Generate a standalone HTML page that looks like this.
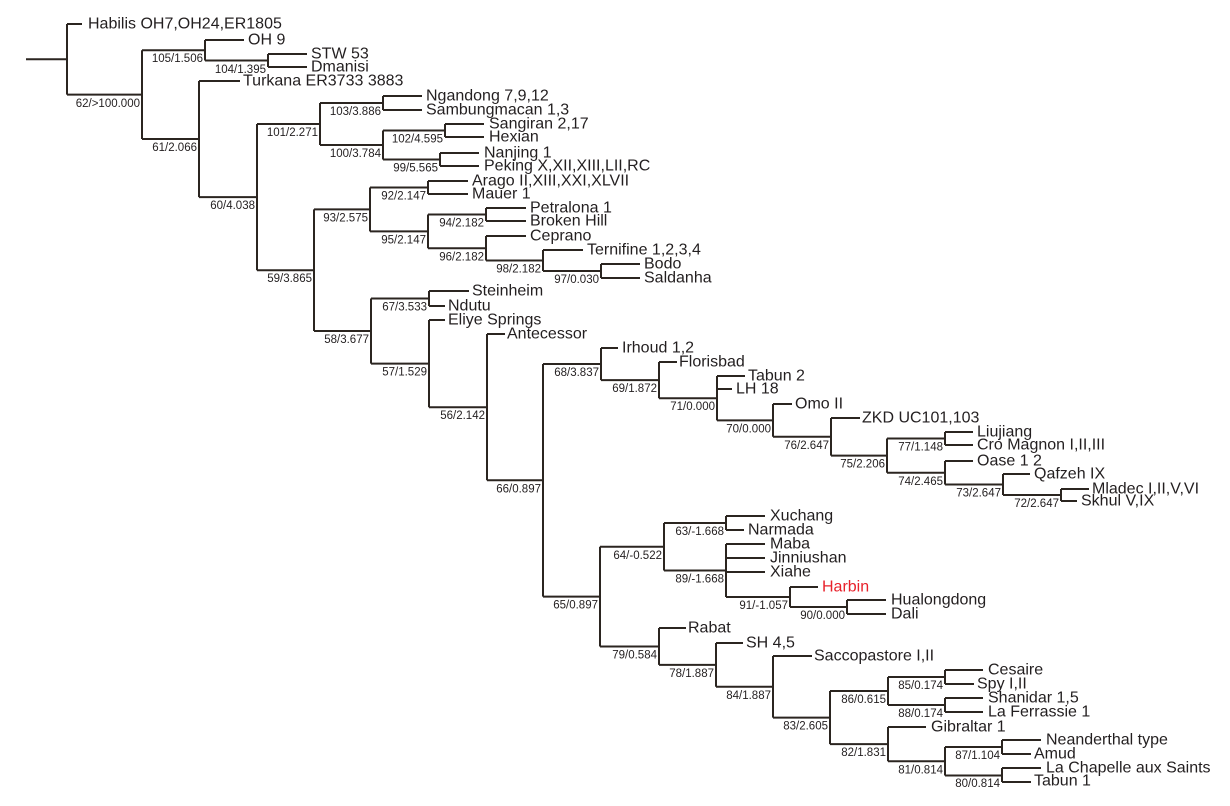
<!DOCTYPE html>
<html><head><meta charset="utf-8"><style>
html,body{margin:0;padding:0;background:#fff;}
svg{display:block;}
.l{font-family:"Liberation Sans",Arial,sans-serif;font-size:16px;fill:#231f20;}
.n{font-family:"Liberation Sans",Arial,sans-serif;font-size:11.5px;fill:#231f20;text-anchor:end;}
</style></head><body>
<svg width="1230" height="806" viewBox="0 0 1230 806" xmlns="http://www.w3.org/2000/svg">
<g transform="translate(0,1)">
<path fill="none" stroke="#2b2520" stroke-width="2" d="
M26 58.3H67 M67 23V93.6 M67 23H82 M67 93.6H142
M142 49.25V138 M142 49.25H205 M142 138H199
M205 39V59.5 M205 39H244 M205 59.5H268
M268 53V66 M268 53H307 M268 66H307
M199 80V196.1 M199 80H240 M199 196.1H257
M257 123V269.2 M257 123H320 M257 269.2H314
M320 102V144 M320 102H383 M320 144H383
M383 95V109 M383 95H422 M383 109H422
M383 129.5V158.5 M383 129.5H445 M383 158.5H440
M445 123V136 M445 123H484 M445 136H484
M440 152V165 M440 152H479 M440 165H479
M314 208.4V330 M314 208.4H370 M314 330H371
M370 186.5V230.4 M370 186.5H428 M370 230.4H428
M428 180V193 M428 180H468 M428 193H468
M428 213.5V247.25 M428 213.5H486 M428 247.25H486
M486 207V220 M486 207H526 M486 220H526
M486 235V259.5 M486 235H526 M486 259.5H543
M543 249V270 M543 249H583 M543 270H601
M601 263V277 M601 263H640 M601 277H640
M371 297.5V362.6 M371 297.5H429 M371 362.6H429
M429 290V305 M429 290H469 M429 305H445
M429 319V406.2 M429 319H445 M429 406.2H487
M487 333V479.3 M487 333H505 M487 479.3H543
M543 363V595.6 M543 363H601 M543 595.6H600
M601 347V379.1 M601 347H618 M601 379.1H659
M659 361V397.2 M659 361H677 M659 397.2H717
M717 375V419.4 M717 375H745 M717 388H732 M717 419.4H773
M773 403V435.8 M773 403H792 M773 435.8H831
M831 417V454.6 M831 417H860 M831 454.6H887
M887 437.5V471.75 M887 437.5H945 M887 471.75H945
M945 431V444 M945 431H973 M945 444H973
M945 460V483.5 M945 460H973 M945 483.5H1003
M1003 473V494 M1003 473H1030 M1003 494H1061
M1061 488V500 M1061 488H1089 M1061 500H1077
M600 545.75V645.5 M600 545.75H664 M600 645.5H659
M664 522V569.5 M664 522H726 M664 569.5H726
M726 515V529 M726 515H765 M726 529H744
M726 543V596 M726 543H765 M726 557H765 M726 571H765 M726 596H790
M790 586V606 M790 586H818 M790 606H847
M847 599V613 M847 599H886 M847 613H886
M659 627V663.9 M659 627H686 M659 663.9H716
M716 642V685.8 M716 642H743 M716 685.8H773
M773 655V716.6 M773 655H812 M773 716.6H830
M830 690V743.1 M830 690H888 M830 743.1H888
M888 676V704 M888 676H945 M888 704H945
M945 669V683 M945 669H983 M945 683H974
M945 697V711 M945 697H983 M945 711H983
M888 726V760.25 M888 726H926 M888 760.25H945
M945 746V774.5 M945 746H1002 M945 774.5H1002
M1002 739V753 M1002 739H1041 M1002 753H1031
M1002 767V781 M1002 767H1041 M1002 781H1031
"/>
<g class="l" transform="translate(0,-1.5)">
<text x="88" y="29">Habilis OH7,OH24,ER1805</text>
<text x="248" y="45">OH 9</text>
<text x="311" y="59">STW 53</text>
<text x="311" y="72">Dmanisi</text>
<text x="243" y="86">Turkana ER3733 3883</text>
<text x="426" y="101">Ngandong 7,9,12</text>
<text x="426" y="115">Sambungmacan 1,3</text>
<text x="489" y="129">Sangiran 2,17</text>
<text x="489" y="142">Hexian</text>
<text x="484" y="158">Nanjing 1</text>
<text x="484" y="171">Peking X,XII,XIII,LII,RC</text>
<text x="472" y="186">Arago II,XIII,XXI,XLVII</text>
<text x="472" y="199">Mauer 1</text>
<text x="530" y="213">Petralona 1</text>
<text x="530" y="226">Broken Hill</text>
<text x="530" y="241">Ceprano</text>
<text x="587" y="255">Ternifine 1,2,3,4</text>
<text x="644" y="269">Bodo</text>
<text x="644" y="283">Saldanha</text>
<text x="472" y="296">Steinheim</text>
<text x="448" y="311">Ndutu</text>
<text x="448" y="325">Eliye Springs</text>
<text x="507" y="339">Antecessor</text>
<text x="622" y="353">Irhoud 1,2</text>
<text x="679" y="367">Florisbad</text>
<text x="748" y="381">Tabun 2</text>
<text x="736" y="394">LH 18</text>
<text x="795" y="409">Omo II</text>
<text x="862" y="423">ZKD UC101,103</text>
<text x="977" y="437">Liujiang</text>
<text x="977" y="450">Cro Magnon I,II,III</text>
<text x="977" y="466">Oase 1 2</text>
<text x="1034" y="479">Qafzeh IX</text>
<text x="1092" y="494">Mladec I,II,V,VI</text>
<text x="1081" y="506">Skhul V,IX</text>
<text x="770" y="521">Xuchang</text>
<text x="748" y="535">Narmada</text>
<text x="770" y="549">Maba</text>
<text x="770" y="563">Jinniushan</text>
<text x="770" y="577">Xiahe</text>
<text x="822" y="592" style="fill:#e8202a">Harbin</text>
<text x="891" y="605">Hualongdong</text>
<text x="891" y="619">Dali</text>
<text x="688" y="633">Rabat</text>
<text x="746" y="648">SH 4,5</text>
<text x="814" y="661">Saccopastore I,II</text>
<text x="988" y="675">Cesaire</text>
<text x="977" y="689">Spy I,II</text>
<text x="988" y="703">Shanidar 1,5</text>
<text x="988" y="717">La Ferrassie 1</text>
<text x="931" y="732">Gibraltar 1</text>
<text x="1046" y="745">Neanderthal type</text>
<text x="1034" y="759">Amud</text>
<text x="1046" y="773">La Chapelle aux Saints</text>
<text x="1034" y="786">Tabun 1</text>
</g>
<g class="n">
<text x="140" y="106">62/&gt;100.000</text>
<text x="203" y="61">105/1.506</text>
<text x="266" y="72">104/1.395</text>
<text x="197" y="150">61/2.066</text>
<text x="255" y="208">60/4.038</text>
<text x="312" y="281">59/3.865</text>
<text x="318" y="135">101/2.271</text>
<text x="381" y="114">103/3.886</text>
<text x="381" y="156">100/3.784</text>
<text x="443" y="141.5">102/4.595</text>
<text x="438" y="170.5">99/5.565</text>
<text x="368" y="220.4">93/2.575</text>
<text x="426" y="198.5">92/2.147</text>
<text x="426" y="242.4">95/2.147</text>
<text x="484" y="225.5">94/2.182</text>
<text x="484" y="259.3">96/2.182</text>
<text x="541" y="271.5">98/2.182</text>
<text x="599" y="282">97/0.030</text>
<text x="369" y="342">58/3.677</text>
<text x="427" y="309.5">67/3.533</text>
<text x="427" y="374.6">57/1.529</text>
<text x="485" y="418.2">56/2.142</text>
<text x="541" y="491.3">66/0.897</text>
<text x="599" y="375">68/3.837</text>
<text x="657" y="391.1">69/1.872</text>
<text x="715" y="409.2">71/0.000</text>
<text x="771" y="431.4">70/0.000</text>
<text x="829" y="447.8">76/2.647</text>
<text x="885" y="466.6">75/2.206</text>
<text x="943" y="449.5">77/1.148</text>
<text x="943" y="483.8">74/2.465</text>
<text x="1001" y="495.5">73/2.647</text>
<text x="1059" y="506">72/2.647</text>
<text x="598" y="607.6">65/0.897</text>
<text x="662" y="557.8">64/-0.522</text>
<text x="724" y="534">63/-1.668</text>
<text x="724" y="581.5">89/-1.668</text>
<text x="788" y="608">91/-1.057</text>
<text x="845" y="618">90/0.000</text>
<text x="657" y="657.5">79/0.584</text>
<text x="714" y="675.9">78/1.887</text>
<text x="771" y="697.8">84/1.887</text>
<text x="828" y="728.6">83/2.605</text>
<text x="886" y="702">86/0.615</text>
<text x="943" y="688">85/0.174</text>
<text x="943" y="716">88/0.174</text>
<text x="886" y="755.1">82/1.831</text>
<text x="943" y="772.3">81/0.814</text>
<text x="1000" y="758">87/1.104</text>
<text x="1000" y="786">80/0.814</text>
</g>
</g>
</svg>
</body></html>
